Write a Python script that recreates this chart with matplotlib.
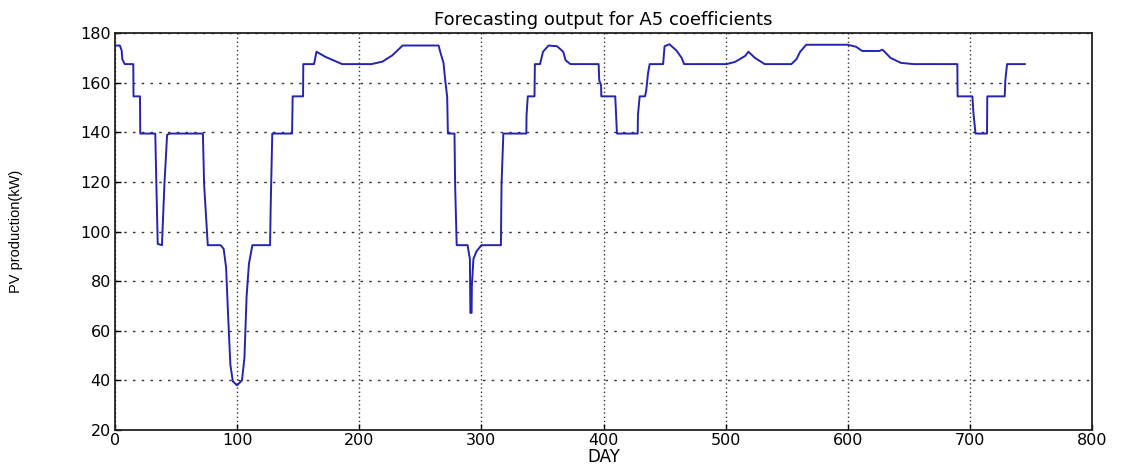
import matplotlib
matplotlib.use("Agg")
import matplotlib.pyplot as plt

# Forecast PV output (kW) per day, A5 coefficient reconstruction
days = [0, 4, 5.5, 6, 8, 15, 15.2, 20.5, 20.7, 33, 33.5, 35, 38.5, 39, 40.5, 42.7, 45,
        72, 73, 75, 76, 86.5, 89, 91, 92.6, 94.5, 96.5, 100, 104, 106, 107.8, 109.7, 112.5,
        127, 127.5, 128.8, 145, 145.5, 154, 154.2, 163, 165, 172, 179, 186,
        210, 219, 227, 235.5, 265, 266, 269, 270.4, 272, 272.6, 278, 278.5, 279.8,
        288.7, 290.6, 291, 292, 292.2, 293.5, 296, 300, 316, 316.5, 318, 336.8, 337, 338,
        343.5, 343.8, 348, 350.5, 355, 362, 367, 369, 373,
        396, 396.5, 398, 398.2, 409.6, 411, 428, 428.2, 429.6, 434, 435, 436.5, 437.8,
        448.8, 450, 454, 459.7, 464, 466, 500.8, 507.7, 516, 518.6, 524, 532,
        553.8, 558, 561, 566, 600, 606.8, 611.7, 625.8, 628.5, 635, 643.5, 654,
        689.7, 689.9, 702, 703, 704.6, 714, 714.2, 728.5, 729, 730.4, 745]
pv_kw = [175, 175, 173, 169.5, 167.5, 167.5, 154.5, 154.5, 139.5, 139.5, 128, 95, 94.5, 101, 119, 139, 139.5,
         139.5, 119, 103, 94.5, 94.5, 93, 85.5, 66.6, 46.3, 39.6, 38, 40, 49, 74, 87, 94.5,
         94.5, 110, 139.5, 139.5, 154.5, 154.5, 167.5, 167.5, 172.5, 170.5, 169, 167.5,
         167.5, 168.5, 171, 175, 175, 173, 168, 161, 154.3, 139.5, 139.5, 119, 94.5,
         94.5, 88.9, 67.2, 67.2, 78, 89, 92, 94.5, 94.5, 119, 139.5, 139.5, 147, 154.5,
         154.5, 167.5, 167.5, 172.5, 175, 174.7, 172.5, 169, 167.5,
         167.5, 161, 159, 154.5, 154.5, 139.5, 139.5, 147, 154.5, 154.5, 157, 164, 167.5,
         167.5, 174.7, 175.5, 173, 170, 167.5, 167.5, 168.4, 170.8, 172.5, 170, 167.5,
         167.5, 169.5, 172.5, 175.3, 175.3, 174.5, 172.8, 172.8, 173.3, 170, 168, 167.5,
         167.5, 154.5, 154.5, 147, 139.5, 139.5, 154.5, 154.5, 161, 167.5, 167.5]

x_ticks = [0, 100, 200, 300, 400, 500, 600, 700, 800]
y_ticks = [20, 40, 60, 80, 100, 120, 140, 160, 180]

plt.rcParams['font.family'] = ['DejaVu Sans']

fig = plt.figure(figsize=(11.27, 4.73), dpi=100)
ax = fig.add_axes([0.102, 0.091, 0.867, 0.839])

ax.plot(days, pv_kw, color='#2424b0', linewidth=1.4)

ax.set_xlim(0, 800)
ax.set_ylim(20, 180)
ax.set_xticks(x_ticks)
ax.set_yticks(y_ticks)
ax.tick_params(direction='in', length=4, width=1, labelsize=11.5, colors='black', pad=3)
ax.tick_params(axis='x', pad=2)

# vertical grid lines use tight dots, horizontal ones use wider dots
ax.xaxis.grid(True, linestyle=(0, (1, 2)), color='#333333', linewidth=1.0)
ax.yaxis.grid(True, linestyle=(0, (1.8, 4.5)), color='#333333', linewidth=1.0)
for sp in ax.spines.values():
    sp.set_linewidth(1.3)
    sp.set_color('#222222')

ax.set_title('Forecasting output for A5 coefficients', fontsize=13, pad=6)
ax.set_xlabel('DAY', fontsize=12, labelpad=0)
ax.set_ylabel('PV production(kW)', fontsize=10.5,
              family=['Liberation Sans Narrow', 'Liberation Sans', 'DejaVu Sans'])
ax.yaxis.set_label_coords(-0.094, 0.5)

fig.savefig('out.png', dpi=100)
